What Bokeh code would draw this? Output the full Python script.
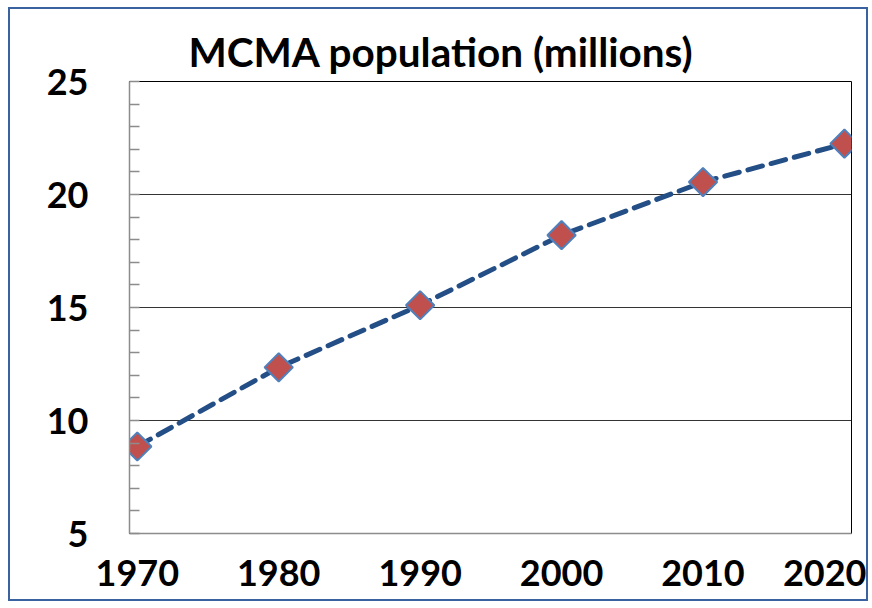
import math
from bokeh.plotting import figure
from bokeh.models import FixedTicker, SingleIntervalTicker, Range1d, Title
from bokeh.embed import file_html
from bokeh.resources import INLINE

years = [1970, 1980, 1990, 2000, 2010, 2020]
population = [8.85, 12.35, 15.1, 18.2, 20.55, 22.25]
y_ticks = [5, 10, 15, 20, 25]
title_text = "MCMA population (millions)"

FONT = "Lato"

p = figure(
    output_backend="svg", toolbar_location=None,
    frame_width=722, frame_height=452,
    min_border_left=119, min_border_top=72, min_border_right=15, min_border_bottom=66,
    x_range=Range1d(1969.45, 2020.5), y_range=Range1d(5, 25),
)
p.styles = {"border": "2px solid #3a62a0", "margin-left": "8px", "margin-top": "7px"}

t = Title(text=title_text, align="left", offset=59, text_font=FONT,
          text_font_style="bold", text_font_size="40.5px", text_color="#000000",
          standoff=11)
p.add_layout(t, "above")

p.outline_line_color = "#000000"
p.outline_line_width = 1

p.xgrid.grid_line_color = None
p.ygrid.grid_line_color = "#333333"
p.ygrid.grid_line_width = 1
p.ygrid.ticker = FixedTicker(ticks=y_ticks)

p.xaxis.ticker = FixedTicker(ticks=years)
p.yaxis.ticker = SingleIntervalTicker(interval=5, num_minor_ticks=5)
for ax in (p.xaxis, p.yaxis):
    ax.axis_line_color = "#8c8c8c"
    ax.axis_line_width = 1.5
    ax.major_tick_in = 0
    ax.major_tick_out = 0
    ax.major_label_text_font = FONT
    ax.major_label_text_font_style = "bold"
    ax.major_label_text_font_size = "36px"
    ax.major_label_text_color = "#000000"
p.xaxis.minor_tick_line_color = None
p.yaxis.minor_tick_in = 10
p.yaxis.minor_tick_out = 0
p.yaxis.minor_tick_line_color = "#8c8c8c"
p.yaxis.minor_tick_line_width = 1.5
p.yaxis.major_label_standoff = 41
p.xaxis.major_label_standoff = 26

p.line(years, population, line_color="#234e86", line_width=5,
       line_dash="15 9", line_cap="round")
p.scatter(years, population, marker="square", angle=math.pi / 4, size=20,
          fill_color="#c0504d", line_color="#4f81bd", line_width=2)

open("out.html", "w").write(file_html(p, INLINE))
